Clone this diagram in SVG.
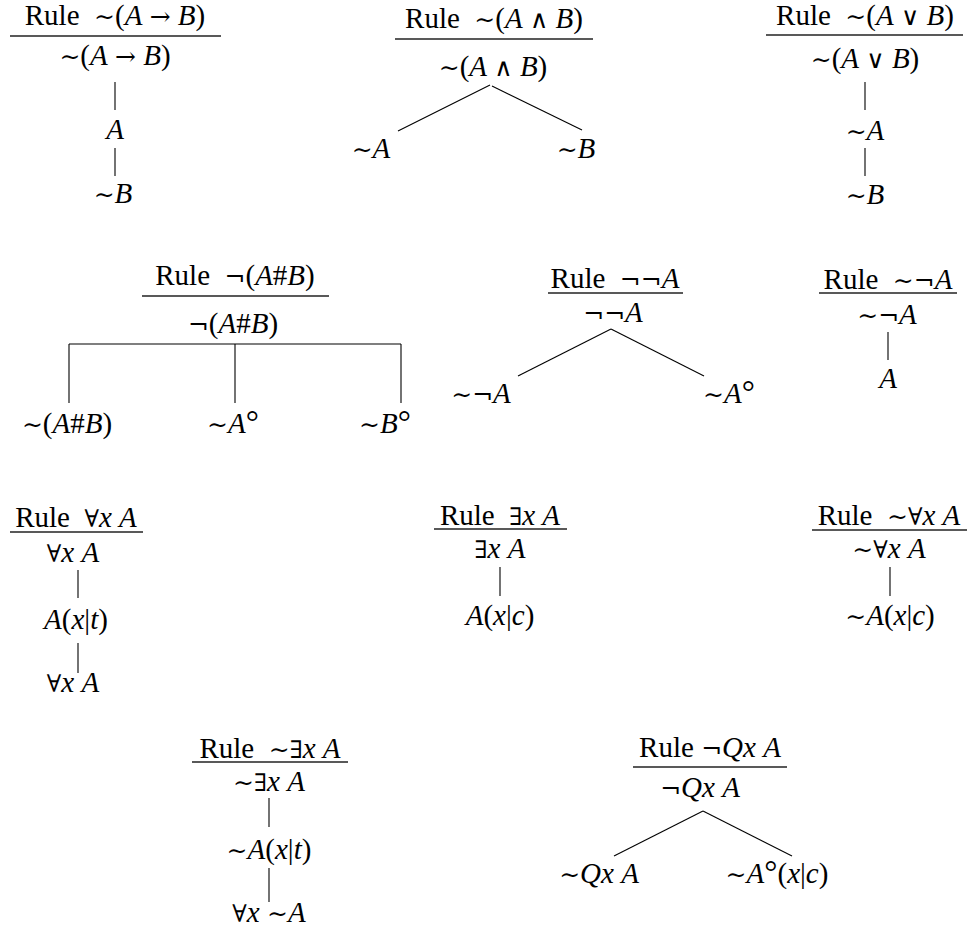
<svg xmlns="http://www.w3.org/2000/svg" width="973" height="940" viewBox="0 0 973 940">
<style>
text{font-family:"Liberation Serif","DejaVu Serif",serif;font-size:29px;fill:#000;text-anchor:middle}
.i{font-style:italic}
.s{font-family:"DejaVu Serif","Liberation Serif",serif;font-size:25px}
.q{font-family:"DejaVu Serif","Liberation Serif",serif;font-size:24px}
.d{font-family:"Liberation Serif",serif;font-size:33px}
line{stroke:#000;stroke-width:1.1;fill:none}
.u{stroke-width:1.4;stroke:#222}
</style>
<rect width="973" height="940" fill="#fff"/>
<g id="connectors">
<line x1="115" y1="82" x2="115" y2="110"/>
<line x1="115" y1="148" x2="115" y2="176"/>
<line x1="490" y1="85" x2="398" y2="131"/>
<line x1="492" y1="86" x2="582" y2="130"/>
<line x1="865" y1="82" x2="865" y2="110"/>
<line x1="865" y1="148" x2="865" y2="176"/>
<line x1="69" y1="344" x2="401" y2="344"/>
<line x1="69" y1="344" x2="69" y2="403"/>
<line x1="235" y1="344" x2="235" y2="403"/>
<line x1="401" y1="344" x2="401" y2="403"/>
<line x1="611" y1="329" x2="518" y2="376"/>
<line x1="611" y1="329" x2="704" y2="376"/>
<line x1="888" y1="332" x2="888" y2="360"/>
<line x1="78" y1="570" x2="78" y2="598"/>
<line x1="78" y1="643" x2="78" y2="673"/>
<line x1="500" y1="567" x2="500" y2="596"/>
<line x1="890" y1="567" x2="890" y2="596"/>
<line x1="269" y1="798" x2="269" y2="827"/>
<line x1="269" y1="868" x2="269" y2="902"/>
<line x1="703" y1="811" x2="614" y2="856"/>
<line x1="703" y1="811" x2="792" y2="856"/>
</g>
<!-- Rule 1 -->
<g id="r1-title"><text x="115" y="25">Rule&#160;&#160;<tspan class="s">∼</tspan>(<tspan class="i">A</tspan>&#160;<tspan class="s">→</tspan>&#160;<tspan class="i">B</tspan>)</text><line class="u" x1="10" y1="36" x2="221" y2="36"/></g>
<g id="r1-n1"><text x="115" y="65"><tspan class="s">∼</tspan>(<tspan class="i">A</tspan>&#160;<tspan class="s">→</tspan>&#160;<tspan class="i">B</tspan>)</text></g>
<g id="r1-n2"><text x="115" y="139" class="i">A</text></g>
<g id="r1-n3"><text x="113" y="203"><tspan class="s">∼</tspan><tspan class="i">B</tspan></text></g>
<!-- Rule 2 -->
<g id="r2-title"><text x="494" y="28">Rule&#160;&#160;<tspan class="s">∼</tspan>(<tspan class="i">A</tspan>&#160;<tspan class="s">∧</tspan>&#160;<tspan class="i">B</tspan>)</text><line class="u" x1="395" y1="39" x2="593" y2="39"/></g>
<g id="r2-n1"><text x="493" y="76"><tspan class="s">∼</tspan>(<tspan class="i">A</tspan>&#160;<tspan class="s">∧</tspan>&#160;<tspan class="i">B</tspan>)</text></g>
<g id="r2-n2"><text x="371" y="158"><tspan class="s">∼</tspan><tspan class="i">A</tspan></text></g>
<g id="r2-n3"><text x="576" y="158"><tspan class="s">∼</tspan><tspan class="i">B</tspan></text></g>
<!-- Rule 3 -->
<g id="r3-title"><text x="865" y="25">Rule&#160;&#160;<tspan class="s">∼</tspan>(<tspan class="i">A</tspan>&#160;<tspan class="s">∨</tspan>&#160;<tspan class="i">B</tspan>)</text><line class="u" x1="766" y1="35" x2="963" y2="35"/></g>
<g id="r3-n1"><text x="865" y="68"><tspan class="s">∼</tspan>(<tspan class="i">A</tspan>&#160;<tspan class="s">∨</tspan>&#160;<tspan class="i">B</tspan>)</text></g>
<g id="r3-n2"><text x="865" y="140"><tspan class="s">∼</tspan><tspan class="i">A</tspan></text></g>
<g id="r3-n3"><text x="865" y="204"><tspan class="s">∼</tspan><tspan class="i">B</tspan></text></g>
<!-- Rule 4 -->
<g id="r4-title"><text x="235" y="285">Rule&#160;&#160;<tspan class="s">¬</tspan>(<tspan class="i">A</tspan>#<tspan class="i">B</tspan>)</text><line class="u" x1="142" y1="296" x2="329" y2="296"/></g>
<g id="r4-n1"><text x="233" y="333"><tspan class="s">¬</tspan>(<tspan class="i">A</tspan>#<tspan class="i">B</tspan>)</text></g>
<g id="r4-n2"><text x="67" y="433"><tspan class="s">∼</tspan>(<tspan class="i">A</tspan>#<tspan class="i">B</tspan>)</text></g>
<g id="r4-n3"><text x="233" y="433"><tspan class="s">∼</tspan><tspan class="i">A</tspan><tspan class="d">°</tspan></text></g>
<g id="r4-n4"><text x="385" y="433"><tspan class="s">∼</tspan><tspan class="i">B</tspan><tspan class="d">°</tspan></text></g>
<!-- Rule 5 -->
<g id="r5-title"><text x="615" y="288">Rule&#160;&#160;<tspan class="s">¬¬</tspan><tspan class="i">A</tspan></text><line class="u" x1="548" y1="293" x2="683" y2="293"/></g>
<g id="r5-n1"><text x="613" y="322"><tspan class="s">¬¬</tspan><tspan class="i">A</tspan></text></g>
<g id="r5-n2"><text x="481" y="403"><tspan class="s">∼¬</tspan><tspan class="i">A</tspan></text></g>
<g id="r5-n3"><text x="729" y="403"><tspan class="s">∼</tspan><tspan class="i">A</tspan><tspan class="d">°</tspan></text></g>
<!-- Rule 6 -->
<g id="r6-title"><text x="888" y="289">Rule&#160;&#160;<tspan class="s">∼¬</tspan><tspan class="i">A</tspan></text><line class="u" x1="819" y1="293" x2="957" y2="293"/></g>
<g id="r6-n1"><text x="887" y="324"><tspan class="s">∼¬</tspan><tspan class="i">A</tspan></text></g>
<g id="r6-n2"><text x="888" y="388" class="i">A</text></g>
<!-- Rule 7 -->
<g id="r7-title"><text x="76" y="527">Rule&#160;&#160;<tspan class="q">∀</tspan><tspan class="i">x</tspan>&#160;<tspan class="i">A</tspan></text><line class="u" x1="10" y1="532" x2="143" y2="532"/></g>
<g id="r7-n1"><text x="73" y="562"><tspan class="q">∀</tspan><tspan class="i">x</tspan>&#160;<tspan class="i">A</tspan></text></g>
<g id="r7-n2"><text x="76" y="629"><tspan class="i">A</tspan>(<tspan class="i">x</tspan>|<tspan class="i">t</tspan>)</text></g>
<g id="r7-n3"><text x="73" y="692"><tspan class="q">∀</tspan><tspan class="i">x</tspan>&#160;<tspan class="i">A</tspan></text></g>
<!-- Rule 8 -->
<g id="r8-title"><text x="500" y="525">Rule&#160;&#160;<tspan class="q">∃</tspan><tspan class="i">x</tspan>&#160;<tspan class="i">A</tspan></text><line class="u" x1="434" y1="529" x2="567" y2="529"/></g>
<g id="r8-n1"><text x="500" y="558"><tspan class="q">∃</tspan><tspan class="i">x</tspan>&#160;<tspan class="i">A</tspan></text></g>
<g id="r8-n2"><text x="500" y="625"><tspan class="i">A</tspan>(<tspan class="i">x</tspan>|<tspan class="i">c</tspan>)</text></g>
<!-- Rule 9 -->
<g id="r9-title"><text x="889" y="525">Rule&#160;&#160;<tspan class="s">∼</tspan><tspan class="q">∀</tspan><tspan class="i">x</tspan>&#160;<tspan class="i">A</tspan></text><line class="u" x1="812" y1="530" x2="967" y2="530"/></g>
<g id="r9-n1"><text x="889" y="558"><tspan class="s">∼</tspan><tspan class="q">∀</tspan><tspan class="i">x</tspan>&#160;<tspan class="i">A</tspan></text></g>
<g id="r9-n2"><text x="890" y="625"><tspan class="s">∼</tspan><tspan class="i">A</tspan>(<tspan class="i">x</tspan>|<tspan class="i">c</tspan>)</text></g>
<!-- Rule 10 -->
<g id="r10-title"><text x="270" y="758">Rule&#160;&#160;<tspan class="s">∼</tspan><tspan class="q">∃</tspan><tspan class="i">x</tspan>&#160;<tspan class="i">A</tspan></text><line class="u" x1="192" y1="762" x2="348" y2="762"/></g>
<g id="r10-n1"><text x="269" y="791"><tspan class="s">∼</tspan><tspan class="q">∃</tspan><tspan class="i">x</tspan>&#160;<tspan class="i">A</tspan></text></g>
<g id="r10-n2"><text x="269" y="859"><tspan class="s">∼</tspan><tspan class="i">A</tspan>(<tspan class="i">x</tspan>|<tspan class="i">t</tspan>)</text></g>
<g id="r10-n3"><text x="269" y="922"><tspan class="q">∀</tspan><tspan class="i">x</tspan>&#160;<tspan class="s">∼</tspan><tspan class="i">A</tspan></text></g>
<!-- Rule 11 -->
<g id="r11-title"><text x="710" y="757">Rule&#160;<tspan class="s">¬</tspan><tspan class="i">Q</tspan><tspan class="i">x</tspan>&#160;<tspan class="i">A</tspan></text><line class="u" x1="633" y1="767" x2="787" y2="767"/></g>
<g id="r11-n1"><text x="700" y="797"><tspan class="s">¬</tspan><tspan class="i">Q</tspan><tspan class="i">x</tspan>&#160;<tspan class="i">A</tspan></text></g>
<g id="r11-n2"><text x="599" y="883"><tspan class="s">∼</tspan><tspan class="i">Q</tspan><tspan class="i">x</tspan>&#160;<tspan class="i">A</tspan></text></g>
<g id="r11-n3"><text x="777" y="883"><tspan class="s">∼</tspan><tspan class="i">A</tspan><tspan class="d">°</tspan>(<tspan class="i">x</tspan>|<tspan class="i">c</tspan>)</text></g>
</svg>
